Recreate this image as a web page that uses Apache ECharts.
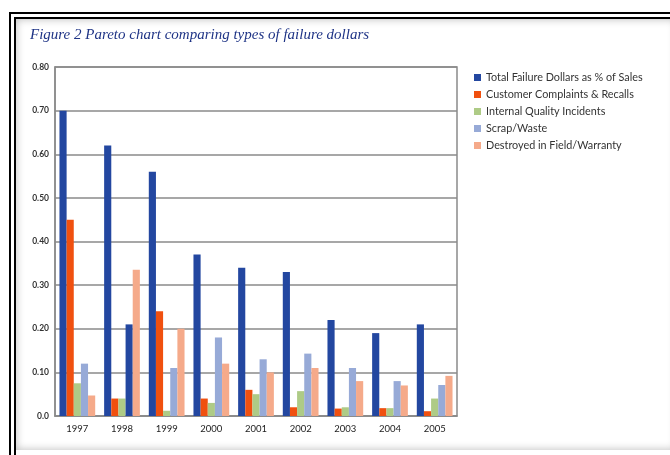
<!DOCTYPE html>
<html>
<head>
<meta charset="utf-8">
<script src="https://cdn.jsdelivr.net/npm/echarts@6/dist/echarts.min.js"></script>
<style>
  html, body { margin: 0; padding: 0; background: #fff; width: 670px; height: 455px; overflow: hidden; }
  #frame { position: absolute; left: 9px; top: 12px; width: 680px; height: 460px; border: 7px double #000; box-sizing: border-box; }
  #inner { position: absolute; left: 16px; top: 19px; width: 660px; height: 431px; box-shadow: inset 0 0 8px rgba(0,0,0,0.28); }
  #chart { position: absolute; left: 0; top: 0; width: 670px; height: 455px; }
</style>
</head>
<body>
<div id="frame"></div>
<div id="inner"></div>
<div id="chart"></div>
<script>
const categories = ['1997','1998','1999','2000','2001','2002','2003','2004','2005'];
const seriesNames = ['Total Failure Dollars as % of Sales','Customer Complaints & Recalls','Internal Quality Incidents','Scrap/Waste','Destroyed in Field/Warranty'];
const totalFailure = [0.70, 0.62, 0.56, 0.37, 0.34, 0.33, 0.22, 0.19, 0.21];
const complaints   = [0.45, 0.04, 0.24, 0.04, 0.06, 0.02, 0.017, 0.018, 0.011];
const internal     = [0.075, 0.04, 0.012, 0.03, 0.05, 0.057, 0.02, 0.018, 0.04];
const scrap        = [0.12, 0.21, 0.11, 0.18, 0.13, 0.143, 0.11, 0.08, 0.071];
const destroyed    = [0.047, 0.335, 0.20, 0.12, 0.10, 0.11, 0.08, 0.07, 0.092];
const yTicks = [0, 0.1, 0.2, 0.3, 0.4, 0.5, 0.6, 0.7, 0.8];
const colors = ['#2347A0', '#F0500F', '#AECB86', '#97AAD7', '#F5AA8A'];

const chart = echarts.init(document.getElementById('chart'));
const values = [totalFailure, complaints, internal, scrap, destroyed];
const series = seriesNames.map((name, i) => ({
  name, type: 'bar',
  barGap: '0%', barCategoryGap: '20%',
  itemStyle: { color: colors[i] },
  data: values[i].map((v, j) => (i === 3 && j === 1) ? { value: v, itemStyle: { color: colors[0] } } : v)
}));

chart.setOption({
  animation: false,
  title: {
    text: 'Figure 2 Pareto chart comparing types of failure dollars',
    left: 25, top: 23,
    textStyle: { fontFamily: 'Liberation Serif', fontStyle: 'italic', fontWeight: 'normal', fontSize: 15, color: '#1F3486' }
  },
  legend: {
    orient: 'vertical', left: 469, top: 67,
    itemWidth: 7, itemHeight: 7, itemGap: 6, icon: 'rect',
    textStyle: { fontFamily: 'Lato', fontSize: 10.8, color: '#333' },
    data: seriesNames
  },
  grid: { left: 55, right: 213, top: 67, bottom: 39, show: true, borderColor: '#8a8a8a', borderWidth: 1.5 },
  xAxis: {
    type: 'category', data: categories,
    axisLine: { lineStyle: { color: '#8a8a8a', width: 1.5 } },
    axisTick: { show: false },
    axisLabel: { fontFamily: 'Lato', fontSize: 9.5, color: '#222', margin: 8 }
  },
  yAxis: {
    type: 'value', min: 0, max: 0.8, interval: 0.1,
    axisLine: { show: true, lineStyle: { color: '#8a8a8a', width: 1.5 } },
    axisTick: { show: false },
    splitLine: { lineStyle: { color: '#8a8a8a', width: 1.5 } },
    axisLabel: { fontFamily: 'Lato', fontSize: 8.5, fontWeight: 'bold', color: '#333', margin: 6,
      formatter: v => v === 0 ? '0.0' : v.toFixed(2) }
  },
  series
});
</script>
</body>
</html>
